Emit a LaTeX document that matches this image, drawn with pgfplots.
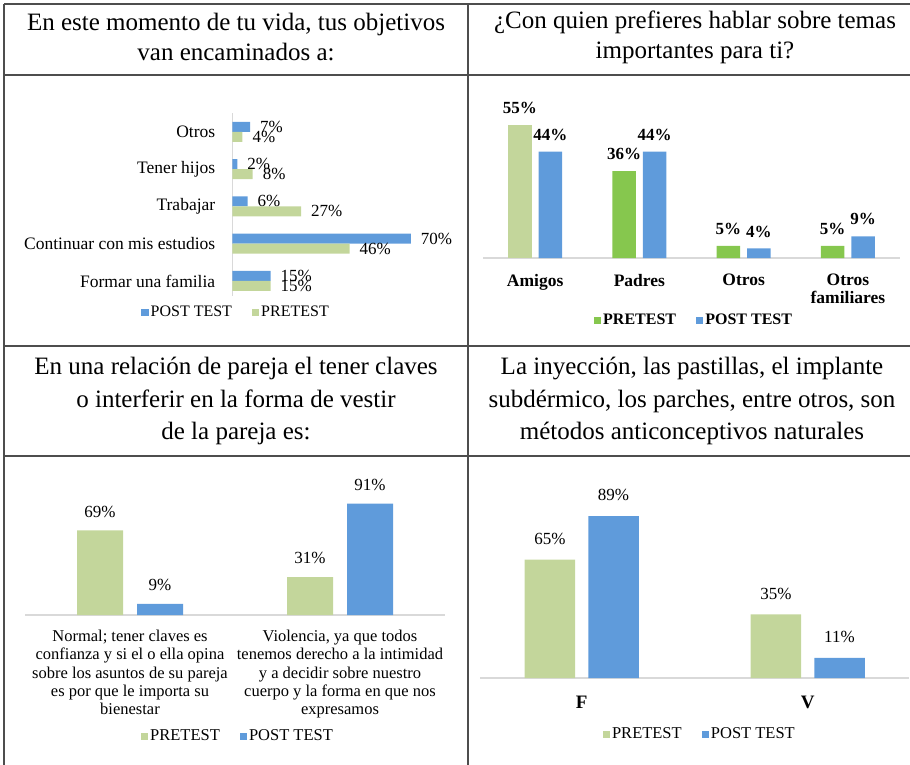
\documentclass[border=0pt]{standalone}
\usepackage{fontspec}
\setmainfont{Liberation Serif}
\usepackage{pgfplots}
\pgfplotsset{compat=1.18}

\definecolor{cblue}{HTML}{5F9BDB}
\definecolor{cgreenL}{HTML}{C3D69B}
\definecolor{cgreenB}{HTML}{86C74E}
\definecolor{framec}{HTML}{4D4D4D}
\definecolor{axgray}{HTML}{D9D9D9}

\pgfplotsset{
  base/.style={
    scale only axis,
    clip=false,
    axis line style={draw=none},
    tick style={draw=none},
    major tick length=0pt,
    /pgf/number format/assume math mode=true,
    legend columns=2,
    legend style={draw=none, fill=none, anchor=center,
      nodes={inner sep=1pt},
      /tikz/every even column/.append style={column sep=9pt}},
    legend image code/.code={\fill[##1] (0pt,-1.8pt) rectangle (3.6pt,1.8pt);},
    nodes near coords={\pgfmathprintnumber{\pgfplotspointmeta}\%},
  },
}

\begin{document}
\begin{tikzpicture}
\path[use as bounding box] (0,0) rectangle (455pt,-382.5pt);

% table frame
\begin{scope}[draw=framec, line width=1pt]
\draw (2pt,-2pt) -- (455pt,-2pt);
\draw (2pt,-2pt) -- (2pt,-382.5pt);
\draw (234pt,-2pt) -- (234pt,-382.5pt);
\draw (2pt,-37.5pt) -- (455pt,-37.5pt);
\draw (2pt,-173pt) -- (455pt,-173pt);
\draw (2pt,-228pt) -- (455pt,-228pt);
\end{scope}

% headers
\begin{scope}[every node/.style={align=center, inner sep=0pt}]
\node[font=\fontsize{12.5}{15}\selectfont] at (118pt,-18.75pt) {En este momento de tu vida, tus objetivos\\van encaminados a:};
\node[font=\fontsize{12.5}{15}\selectfont] at (347.5pt,-18.75pt) {¿Con quien prefieres hablar sobre temas\\importantes para ti?};
\node[font=\fontsize{12.5}{16.25}\selectfont] at (118pt,-200.5pt) {En una relación de pareja el tener claves\\o interferir en la forma de vestir\\de la pareja es:};
\node[font=\fontsize{12.5}{16.25}\selectfont] at (346pt,-200.5pt) {La inyección, las pastillas, el implante\\subdérmico, los parches, entre otros, son\\métodos anticonceptivos naturales};
\end{scope}

% ---------- Chart 1 ----------
\begin{axis}[xbar, base,
  at={(116.15pt,-149.8pt)}, anchor=south west,
  width=95.6pt, height=93.25pt,
  xmin=0, xmax=75, ymin=-0.5, ymax=4.5,
  bar width=5pt, point meta=x,
  ytick={0,...,4},
  yticklabels={Formar una familia, Continuar con mis estudios, Trabajar, Tener hijos, Otros},
  xtick=\empty,
  yticklabel style={font=\fontsize{8.75}{10}\selectfont, xshift=-5pt},
  every node near coord/.append style={font=\fontsize{8.5}{10}\selectfont, text=black, xshift=1.5pt},
  legend style={at={(0.02,-0.07)}, font=\fontsize{8}{9}\selectfont},
]
\draw[axgray, line width=0.75pt] (axis cs:0,-0.4) -- (axis cs:0,4.5);
\addplot[fill=cblue, draw=none, bar shift=2.5pt] coordinates {(15,0) (70,1) (6,2) (2,3) (7,4)};
\addplot[fill=cgreenL, draw=none, bar shift=-2.5pt] coordinates {(15,0) (46,1) (27,2) (8,3) (4,4)};
\legend{POST TEST, PRETEST}
\end{axis}

% ---------- Chart 2 ----------
\begin{axis}[ybar, base,
  at={(241.5pt,-129pt)}, anchor=south west,
  width=208.5pt, height=72.5pt,
  xmin=-0.5, xmax=3.5, ymin=0, ymax=60,
  bar width=11.75pt,
  xtick={0,...,3},
  xticklabels={Amigos, Padres, Otros, {Otros\\familiares}},
  xticklabel style={font=\bfseries\fontsize{8.75}{9}\selectfont, align=center, yshift=-4.5pt},
  ytick=\empty,
  every node near coord/.append style={font=\bfseries\fontsize{8.5}{10}\selectfont, text=black, yshift=2pt},
  legend style={at={(0.506,-0.43)}, font=\bfseries\fontsize{8}{9}\selectfont},
]
\draw[axgray, line width=0.75pt] (rel axis cs:0,0) -- (rel axis cs:1,0);
\addplot[fill=cgreenB, draw=none, bar shift=-7.625pt] coordinates {(1,36) (2,5) (3,5)};
\addplot[fill=cblue, draw=none, bar shift=7.625pt] coordinates {(0,44) (1,44) (2,4) (3,9)};
\addplot[fill=cgreenL, draw=none, bar shift=-7.625pt, forget plot] coordinates {(0,55)};
\legend{PRETEST, POST TEST}
\end{axis}

% ---------- Chart 3 ----------
\begin{axis}[ybar, base,
  at={(12.5pt,-307.5pt)}, anchor=south west,
  width=210pt, height=61.25pt,
  xmin=-0.5, xmax=1.5, ymin=0, ymax=100,
  bar width=23pt,
  xtick={0,1},
  xticklabels={{Normal; tener claves es\\confianza y si el o ella opina\\sobre los asuntos de su pareja\\es por que le importa su\\bienestar},
               {Violencia, ya que todos\\tenemos derecho a la intimidad\\y a decidir sobre nuestro\\cuerpo y la forma en que nos\\expresamos}},
  xticklabel style={font=\fontsize{8.25}{9.15}\selectfont, align=center, yshift=-4pt},
  ytick=\empty,
  every node near coord/.append style={font=\fontsize{8.5}{10}\selectfont, text=black, yshift=3pt},
  legend style={at={(0.507,-0.995)}, font=\fontsize{8.25}{9}\selectfont},
]
\draw[axgray, line width=0.75pt] (rel axis cs:0,0) -- (rel axis cs:1,0);
\addplot[fill=cgreenL, draw=none, bar shift=-15pt] coordinates {(0,69) (1,31)};
\addplot[fill=cblue, draw=none, bar shift=15pt] coordinates {(0,9) (1,91)};
\legend{PRETEST, POST TEST}
\end{axis}

% ---------- Chart 4 ----------
\begin{axis}[ybar, base,
  at={(240pt,-339pt)}, anchor=south west,
  width=214.7pt, height=91pt,
  xmin=-0.45, xmax=1.45, ymin=0, ymax=100,
  bar width=25.25pt,
  xtick={0,1},
  xticklabels={F, V},
  xticklabel style={font=\bfseries\fontsize{9.5}{10}\selectfont, yshift=-5.5pt},
  ytick=\empty,
  every node near coord/.append style={font=\fontsize{8.5}{10}\selectfont, text=black, yshift=4pt},
  legend style={at={(0.512,-0.31)}, font=\fontsize{8.25}{9}\selectfont},
]
\draw[axgray, line width=0.75pt] (rel axis cs:0,0) -- (rel axis cs:1,0);
\addplot[fill=cgreenL, draw=none, bar shift=-15.9pt] coordinates {(0,65) (1,35)};
\addplot[fill=cblue, draw=none, bar shift=15.9pt] coordinates {(0,89) (1,11)};
\legend{PRETEST, POST TEST}
\end{axis}
\end{tikzpicture}
\end{document}
